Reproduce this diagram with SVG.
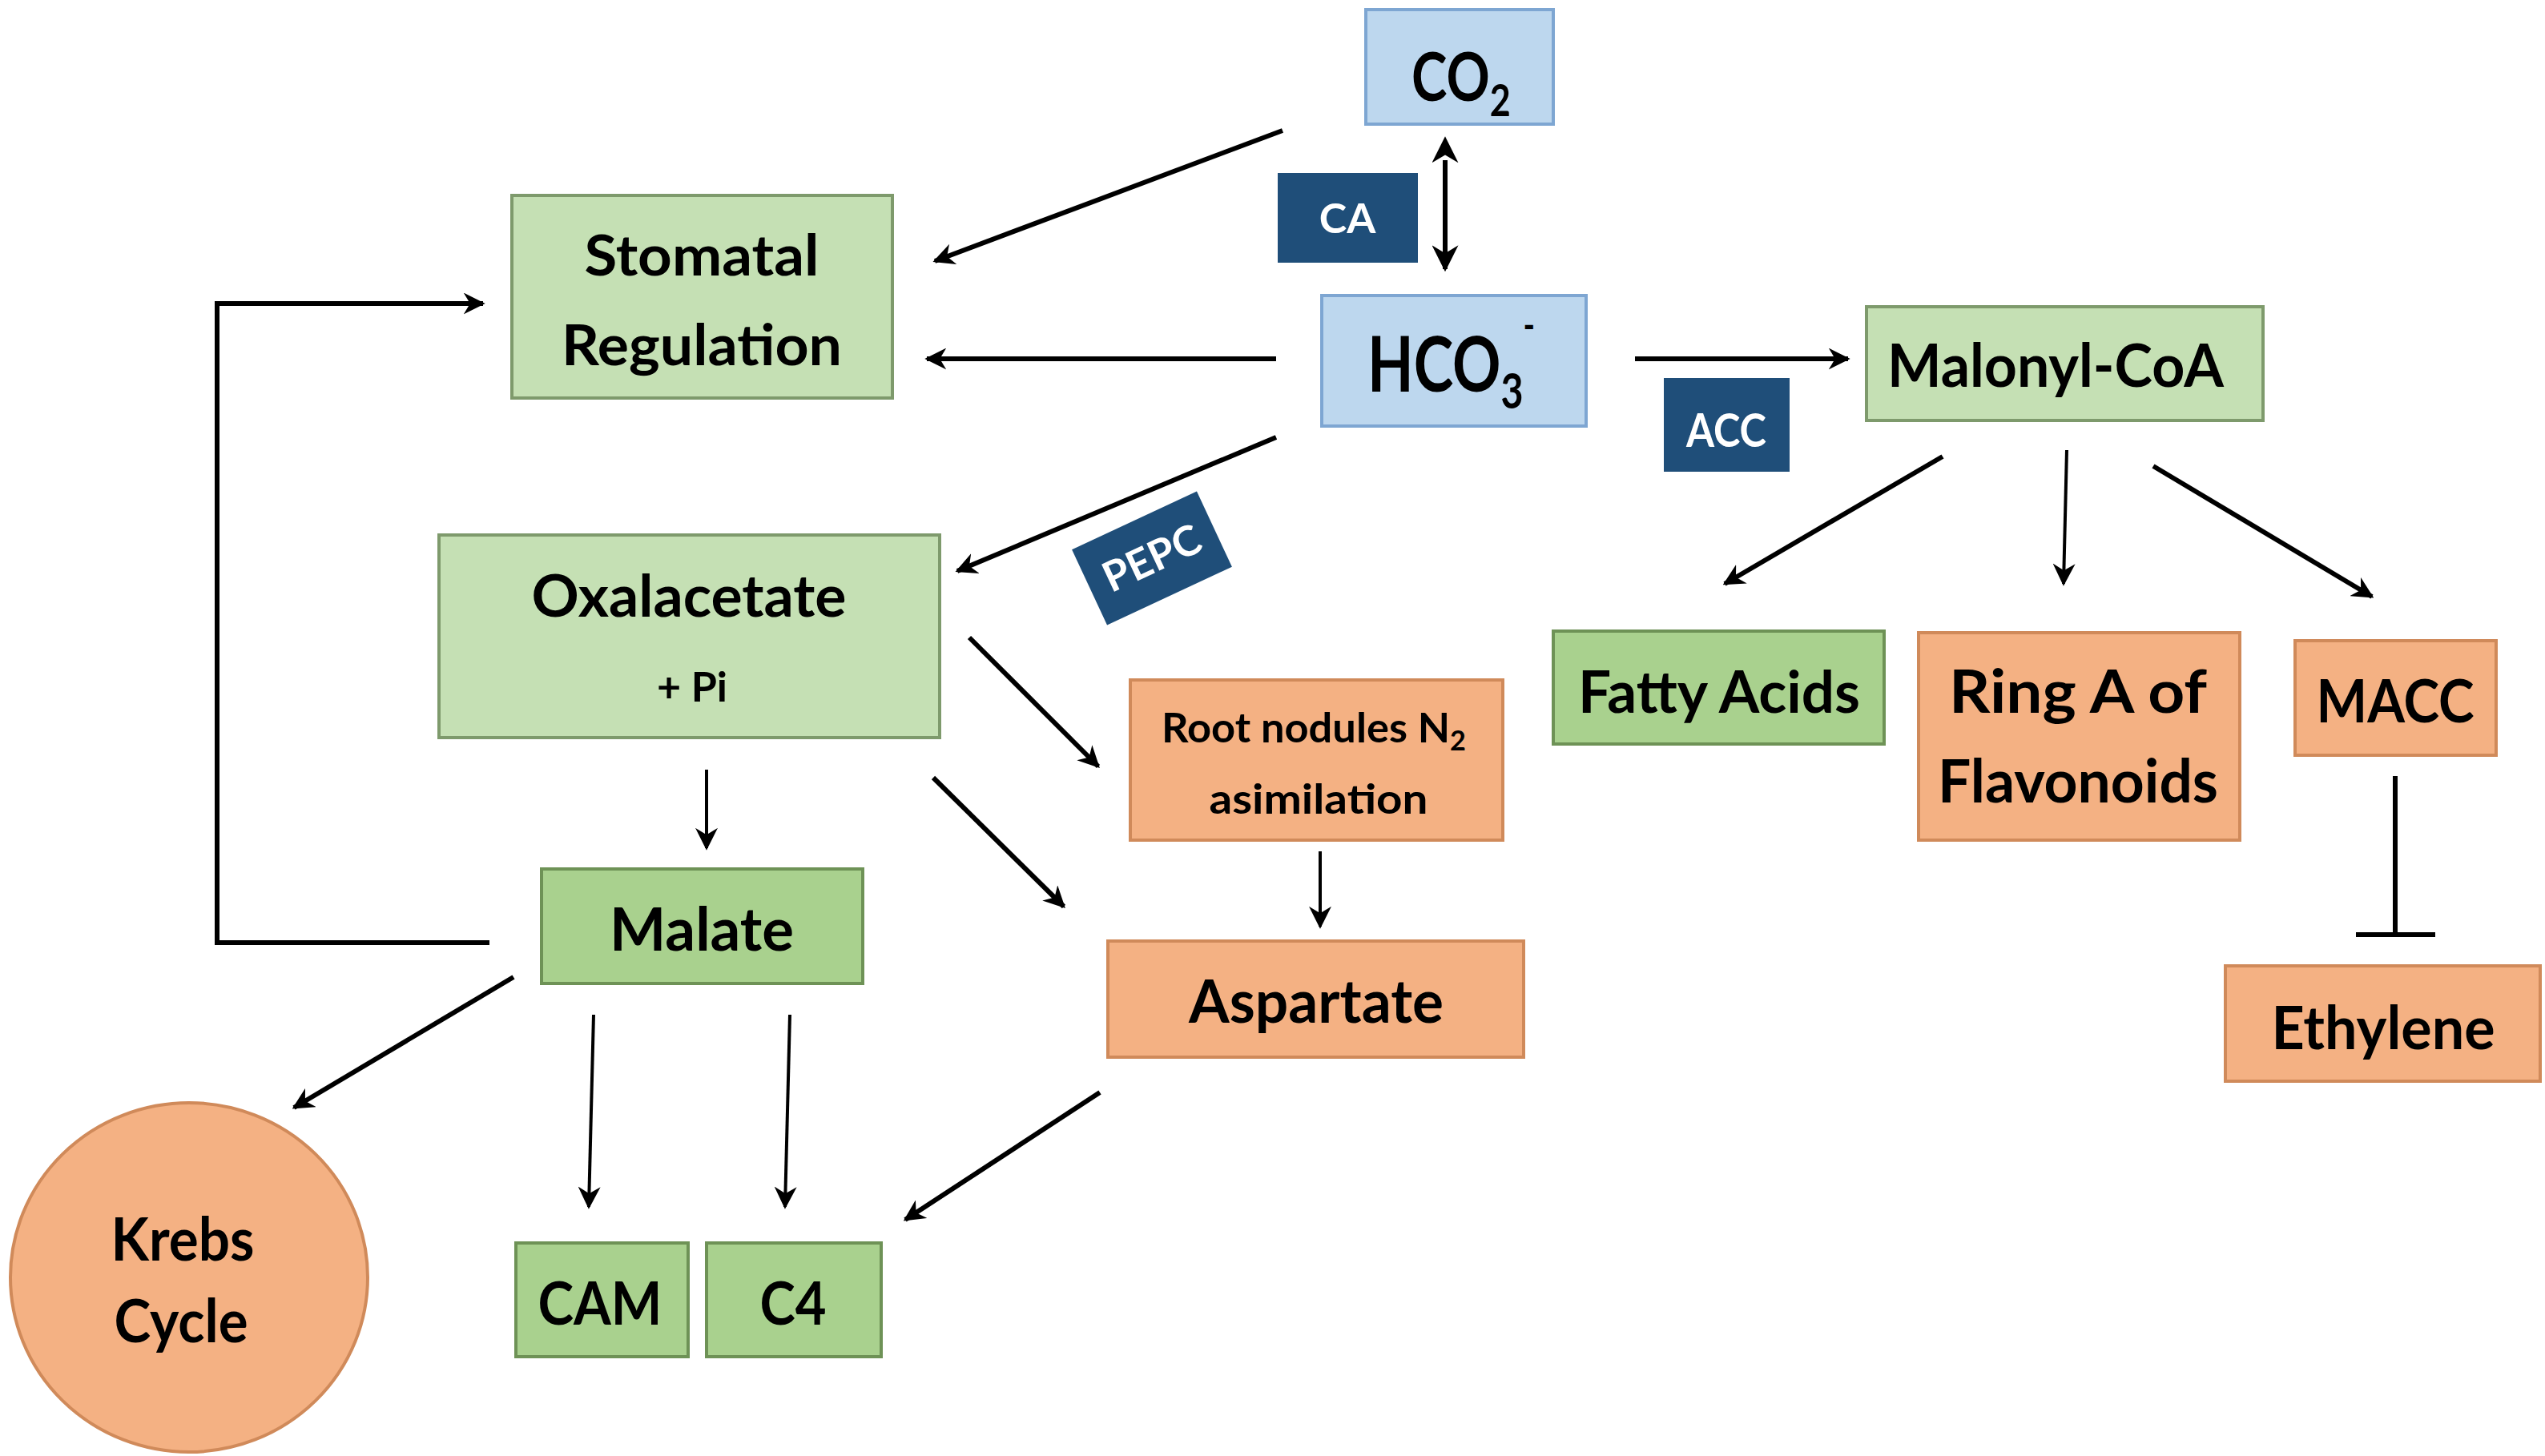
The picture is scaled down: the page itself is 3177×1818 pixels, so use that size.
<svg xmlns="http://www.w3.org/2000/svg" width="3177" height="1818" viewBox="0 0 3177 1818">
<defs>
<marker id="ah" viewBox="0 0 10 10" refX="9" refY="5" markerWidth="4.5" markerHeight="4.5" orient="auto" markerUnits="strokeWidth">
<path d="M0,0 L10,5 L0,10 L3,5 Z" fill="#000"/>
</marker>
<marker id="ah2" viewBox="0 0 10 10" refX="9" refY="5" markerWidth="7" markerHeight="7" orient="auto" markerUnits="strokeWidth">
<path d="M0,0 L10,5 L0,10 L3,5 Z" fill="#000"/>
</marker>
<marker id="ahs" viewBox="0 0 10 10" refX="1" refY="5" markerWidth="5.5" markerHeight="5.5" orient="auto-start-reverse" markerUnits="strokeWidth">
<path d="M0,0 L10,5 L0,10 L3,5 Z" fill="#000"/>
</marker>
<marker id="ahe" viewBox="0 0 10 10" refX="9" refY="5" markerWidth="5.5" markerHeight="5.5" orient="auto" markerUnits="strokeWidth">
<path d="M0,0 L10,5 L0,10 L3,5 Z" fill="#000"/>
</marker>
<style>
.t{font-family:Lato,"Open Sans","Liberation Sans",sans-serif;font-weight:bold;fill:#000;text-anchor:middle}
.s{font-family:Lato,"Open Sans","Liberation Sans",sans-serif;font-weight:bold;fill:#000}
.w{font-family:Lato,"Open Sans","Liberation Sans",sans-serif;font-weight:bold;fill:#fff;text-anchor:middle}
.blue{fill:#BDD7EE;stroke:#7EA6D2;stroke-width:4}
.lg{fill:#C5E0B4;stroke:#7E9A6C;stroke-width:4}
.dg{fill:#A9D18E;stroke:#6E9256;stroke-width:4}
.or{fill:#F4B183;stroke:#D08A5A;stroke-width:4}
.enz{fill:#1F4E79}
.c{fill:none;stroke:#000;stroke-width:6}
.c2{fill:none;stroke:#000;stroke-width:4}
</style>
</defs>
<rect width="3177" height="1818" fill="#fff"/>

<g id="connectors">
<line class="c" x1="1601" y1="163" x2="1167" y2="326" marker-end="url(#ah)"/>
<line class="c" x1="1593" y1="448" x2="1157" y2="448" marker-end="url(#ah)"/>
<line class="c" x1="1593" y1="546" x2="1195" y2="713" marker-end="url(#ah)"/>
<line class="c" x1="2041" y1="448" x2="2307" y2="448" marker-end="url(#ah)"/>
<line class="c" x1="1804" y1="200" x2="1804" y2="336" marker-start="url(#ahs)" marker-end="url(#ahe)"/>
<line class="c" x1="2425" y1="570" x2="2153" y2="729" marker-end="url(#ah)"/>
<line class="c2" x1="2580" y1="562" x2="2576" y2="729" marker-end="url(#ah2)"/>
<line class="c" x1="2688" y1="582" x2="2961" y2="745" marker-end="url(#ah)"/>
<line class="c" x1="1210" y1="796" x2="1371" y2="957" marker-end="url(#ah)"/>
<line class="c" x1="1165" y1="971" x2="1328" y2="1132" marker-end="url(#ah)"/>
<line class="c2" x1="882" y1="961" x2="882" y2="1059" marker-end="url(#ah2)"/>
<line class="c2" x1="1648" y1="1063" x2="1648" y2="1157" marker-end="url(#ah2)"/>
<polyline class="c" points="611,1177 271,1177 271,379 603,379" marker-end="url(#ah)"/>
<line class="c" x1="641" y1="1220" x2="367" y2="1383" marker-end="url(#ah)"/>
<line class="c2" x1="741" y1="1267" x2="735" y2="1507" marker-end="url(#ah2)"/>
<line class="c2" x1="986" y1="1267" x2="980" y2="1507" marker-end="url(#ah2)"/>
<line class="c" x1="1373" y1="1364" x2="1130" y2="1523" marker-end="url(#ah)"/>
<line class="c" x1="2990" y1="969" x2="2990" y2="1167"/>
<line class="c" x1="2941" y1="1167" x2="3040" y2="1167"/>
</g>

<g id="co2">
<rect class="blue" x="1705" y="12" width="234" height="143"/>
<text class="s" transform="translate(1762,126) scale(0.8,1)" x="0" y="0" font-size="84">CO<tspan font-size="56" dy="19">2</tspan></text>
</g>
<g id="ca">
<rect class="enz" x="1595" y="216" width="175" height="112"/>
<text class="w" x="1682" y="291" font-size="52">CA</text>
</g>
<g id="hco3">
<rect class="blue" x="1650" y="369" width="330" height="163"/>
<text class="s" transform="translate(1707,489) scale(0.78,1)" x="0" y="0" font-size="96">HCO<tspan font-size="62" dy="21">3</tspan><tspan font-size="50" dy="-86">-</tspan></text>
</g>
<g id="stomatal">
<rect class="lg" x="639" y="244" width="475" height="253"/>
<text class="t" x="876" y="344" font-size="70" textLength="293" lengthAdjust="spacingAndGlyphs">Stomatal</text>
<text class="t" x="876" y="456" font-size="70" textLength="350" lengthAdjust="spacingAndGlyphs">Regulation</text>
</g>
<g id="oxalacetate">
<rect class="lg" x="548" y="668" width="625" height="253"/>
<text class="t" x="860" y="770" font-size="72" textLength="393" lengthAdjust="spacingAndGlyphs">Oxalacetate</text>
<text class="t" x="864" y="876" font-size="52">+ Pi</text>
</g>
<g id="pepc" transform="translate(1438,697) rotate(-25)">
<rect class="enz" x="-86" y="-52" width="172" height="104"/>
<text class="w" x="0" y="18" font-size="52">PEPC</text>
</g>
<g id="malonyl">
<rect class="lg" x="2330" y="383" width="495" height="142"/>
<text class="t" x="2566" y="483" font-size="74" textLength="420" lengthAdjust="spacingAndGlyphs">Malonyl-CoA</text>
</g>
<g id="acc">
<rect class="enz" x="2077" y="472" width="157" height="117"/>
<text class="w" x="2155" y="558" font-size="58" textLength="100" lengthAdjust="spacingAndGlyphs">ACC</text>
</g>
<g id="fatty">
<rect class="dg" x="1939" y="788" width="413" height="141"/>
<text class="t" x="2146" y="890" font-size="72" textLength="352" lengthAdjust="spacingAndGlyphs">Fatty Acids</text>
</g>
<g id="ringa">
<rect class="or" x="2395" y="790" width="401" height="259"/>
<text class="t" x="2594" y="890" font-size="74" textLength="322" lengthAdjust="spacingAndGlyphs">Ring A of</text>
<text class="t" x="2594" y="1002" font-size="74" textLength="350" lengthAdjust="spacingAndGlyphs">Flavonoids</text>
</g>
<g id="macc">
<rect class="or" x="2865" y="800" width="251" height="143"/>
<text class="t" x="2990" y="902" font-size="74" textLength="197" lengthAdjust="spacingAndGlyphs">MACC</text>
</g>
<g id="ethylene">
<rect class="or" x="2778" y="1206" width="393" height="144"/>
<text class="t" x="2975" y="1310" font-size="74" textLength="279" lengthAdjust="spacingAndGlyphs">Ethylene</text>
</g>
<g id="rootnodules">
<rect class="or" x="1411" y="849" width="465" height="200"/>
<text class="t" x="1640" y="927" font-size="52" textLength="380" lengthAdjust="spacingAndGlyphs">Root nodules N<tspan font-size="34" dy="10">2</tspan></text>
<text class="t" x="1646" y="1016" font-size="52" textLength="273" lengthAdjust="spacingAndGlyphs">asimilation</text>
</g>
<g id="aspartate">
<rect class="or" x="1383" y="1175" width="519" height="145"/>
<text class="t" x="1643" y="1277" font-size="74" textLength="318" lengthAdjust="spacingAndGlyphs">Aspartate</text>
</g>
<g id="malate">
<rect class="dg" x="676" y="1085" width="401" height="143"/>
<text class="t" x="876" y="1187" font-size="74" textLength="230" lengthAdjust="spacingAndGlyphs">Malate</text>
</g>
<g id="cam">
<rect class="dg" x="644" y="1552" width="215" height="142"/>
<text class="t" x="749" y="1654" font-size="74" textLength="155" lengthAdjust="spacingAndGlyphs">CAM</text>
</g>
<g id="c4">
<rect class="dg" x="882" y="1552" width="218" height="142"/>
<text class="t" x="990" y="1654" font-size="74" textLength="83" lengthAdjust="spacingAndGlyphs">C4</text>
</g>
<g id="krebs">
<ellipse class="or" cx="236" cy="1595" rx="223" ry="218" stroke-width="3"/>
<text class="t" x="228" y="1574" font-size="74" textLength="179" lengthAdjust="spacingAndGlyphs">Krebs</text>
<text class="t" x="226" y="1676" font-size="74" textLength="167" lengthAdjust="spacingAndGlyphs">Cycle</text>
</g>
</svg>
